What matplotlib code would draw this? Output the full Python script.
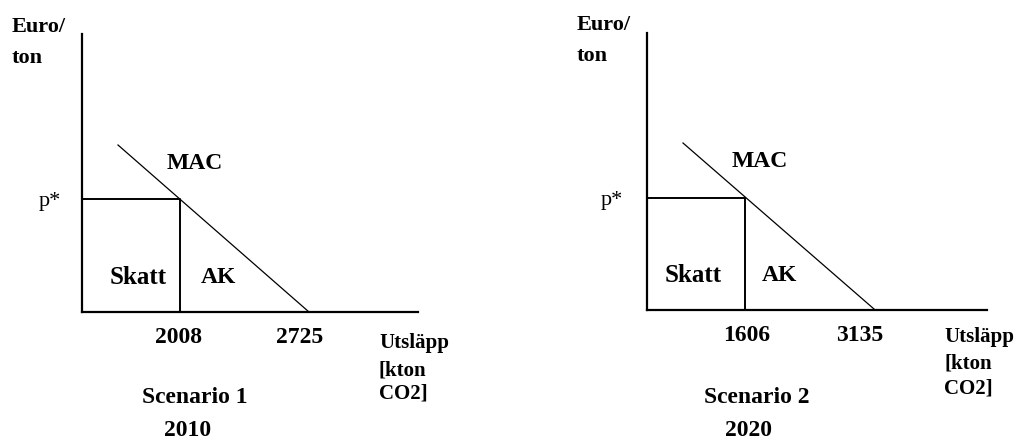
import matplotlib.pyplot as plt

plt.rcParams['font.family'] = ['Liberation Serif', 'DejaVu Serif']

# schematic units, origin at the corner of the axes, 1 unit ~ 1 px
x_len = [336, 340]
y_len = [278, 277]
q_star = [98, 98]          # quantity at the tax level
p_star = [113, 112]        # tax level p*
mac_start = [(36, 167), (36, 167)]
mac_end = [(227, 0), (227, 1)]

tick_labels = [("2008", "2725"), ("1606", "3135")]
scenarios = ["Scenario 1", "Scenario 2"]
years = ["2010", "2020"]
unit_lines = ["Utsläpp", "[kton", "CO2]"]

# where each diagram's origin sits in the figure (pixels from top-left)
origins = [(82, 312), (647, 310)]
W, H = 1016, 440

# label placement per panel (schematic units)
tick_x = [(96, 218), (100, 213)]
tick_y = [-25, -25]
skatt_x = [56, 46]
ak_x = [136, 132]
pstar_x = [-32, -35]
unit_y = [(-31, -58, -81), (-27, -53, -78)]
scen_pos = [(113, -85), (110, -87)]
year_pos = [(106, -118), (102, -120)]

fig = plt.figure(figsize=(W / 100, H / 100), dpi=100)

for i in range(2):
    ox, oy = origins[i]
    left = 0 if i == 0 else 508
    ax = fig.add_axes([left / W, 0, 508 / W, 1])
    ax.set_xlim(left - ox, left + 508 - ox)
    ax.set_ylim(-(H - oy), oy)
    ax.axis('off')

    # axes lines
    ax.plot([0, 0], [0, y_len[i]], color='black', lw=1.6)
    ax.plot([0, x_len[i]], [0, 0], color='black', lw=1.6)
    # tax rectangle
    ax.plot([0, q_star[i], q_star[i]], [p_star[i], p_star[i], 0], color='black', lw=1.4)
    # MAC curve
    ax.plot([mac_start[i][0], mac_end[i][0]], [mac_start[i][1], mac_end[i][1]],
            color='black', lw=0.9)

    ax.text(-70, 280, "Euro/", ha='left', va='baseline', fontweight='bold', fontsize=16)
    ax.text(-70, 249, "ton", ha='left', va='baseline', fontweight='bold', fontsize=16)
    ax.text(pstar_x[i], p_star[i] - 2, "p*", ha='center', va='center', fontsize=16)
    ax.text(113, 149, "MAC", ha='center', va='center', fontweight='bold', fontsize=17)
    ax.text(skatt_x[i], 35, "Skatt", ha='center', va='center', fontweight='bold', fontsize=18)
    ax.text(ak_x[i], 35, "AK", ha='center', va='center', fontweight='bold', fontsize=17)
    for lab, tx in zip(tick_labels[i], tick_x[i]):
        ax.text(tx, tick_y[i], lab, ha='center', va='center', fontweight='bold', fontsize=17)
    for line, ly in zip(unit_lines, unit_y[i]):
        ax.text(297, ly, line, ha='left', va='center', fontweight='bold', fontsize=15)
    ax.text(*scen_pos[i], scenarios[i], ha='center', va='center', fontweight='bold', fontsize=17)
    ax.text(*year_pos[i], years[i], ha='center', va='center', fontweight='bold', fontsize=17)

fig.savefig("out.png", dpi=100)
